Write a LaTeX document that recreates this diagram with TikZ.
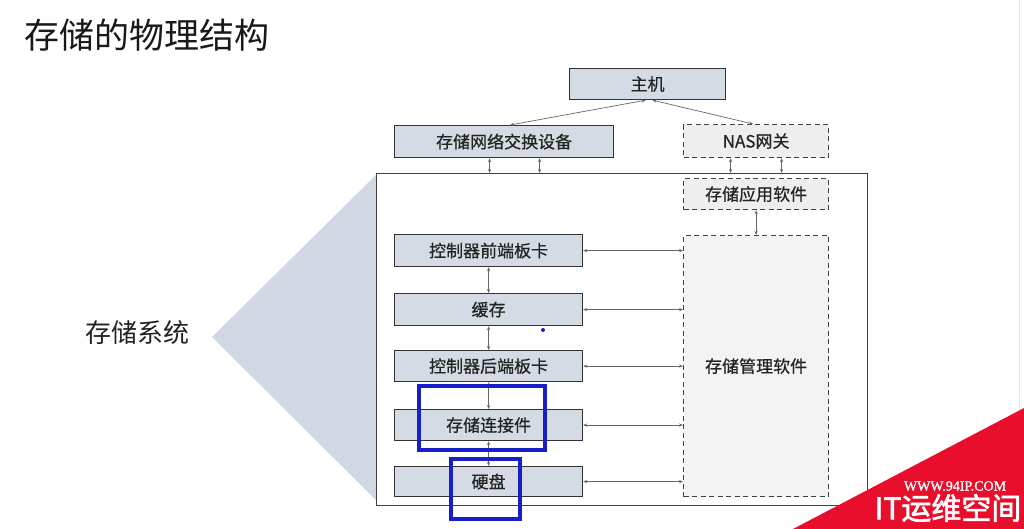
\documentclass[tikz,border=0pt]{standalone}
\usepackage{fontspec}
\newfontfamily\cjk{Noto Sans CJK SC}
\newfontfamily\cjkm[FakeBold=0.6]{Noto Sans CJK SC}
\newfontfamily\cjkb[FakeBold=2]{Noto Sans CJK SC}
\newfontfamily\wmfont[FakeBold=1.5]{Liberation Serif}
\usetikzlibrary{arrows.meta}
\definecolor{boxfill}{RGB}{213,219,229}
\definecolor{trifill}{RGB}{209,216,228}
\definecolor{dashfill}{RGB}{238,238,239}
\definecolor{mgmtfill}{RGB}{243,243,244}
\definecolor{hiblue}{RGB}{24,30,200}
\definecolor{wmred}{RGB}{232,14,44}
\definecolor{txt}{RGB}{35,35,35}
\begin{document}
\begin{tikzpicture}[x=1pt,y=-1pt,
  sbox/.style={draw=black!80, line width=1.2pt, fill=boxfill, inner sep=0pt,
    anchor=north west, text=txt, font=\cjkm\fontsize{17}{20}\selectfont},
  dbox/.style={draw=black!75, line width=1.2pt, dash pattern=on 5pt off 3.5pt,
    fill=dashfill, inner sep=0pt, anchor=north west, text=txt,
    font=\cjkm\fontsize{17}{20}\selectfont},
  arr/.style={draw=black!60, line width=0.7pt,
    {Stealth[length=4pt,width=3.2pt]}-{Stealth[length=4pt,width=3.2pt]}},
  hilite/.style={draw=hiblue, line width=4.5pt}
]
\useasboundingbox (0,0) rectangle (1024,529);
\fill[white] (0,0) rectangle (1024,529);
\draw[black!10, line width=0.8pt] (1019,0) -- (1019,529);

% title
\node[anchor=west, inner sep=0pt, font=\cjk\fontsize{35}{38}\selectfont, text=black!90] (title) at (24,35) {存储的物理结构};

% triangle
\fill[trifill] (212,337) -- (377,174) -- (377,501) -- cycle;
\node[anchor=center, inner sep=0pt, font=\cjk\fontsize{26}{28}\selectfont, text=txt] (syslabel) at (137,333) {存储系统};

% storage system box
\node[draw=black!75, line width=1.2pt, fill=white, anchor=north west, inner sep=0pt,
  minimum width=491pt, minimum height=332pt] (sys) at (376,173) {};

% top boxes
\node[sbox, minimum width=156pt, minimum height=31pt] (host) at (569,68) {主机};
\node[sbox, minimum width=219pt, minimum height=32pt] (sw) at (394,125) {存储网络交换设备};
\node[dbox, minimum width=145pt, minimum height=33pt] (nas) at (683,124) {NAS网关};

% inside boxes
\node[dbox, minimum width=145pt, minimum height=31pt] (app) at (683,178) {存储应用软件};
\node[dbox, fill=mgmtfill, minimum width=145pt, minimum height=261pt] (mgmt) at (683,235) {存储管理软件};

\node[sbox, minimum width=188pt, minimum height=32pt] (fe) at (394,234) {控制器前端板卡};
\node[sbox, minimum width=188pt, minimum height=32pt] (cache) at (394,293) {缓存};
\node[sbox, minimum width=188pt, minimum height=31pt] (be) at (394,350) {控制器后端板卡};
\node[sbox, minimum width=188pt, minimum height=31pt] (conn) at (394,409) {存储连接件};
\node[sbox, minimum width=188pt, minimum height=30pt] (disk) at (394,466) {硬盘};

% connectors from host
\draw[arr] ([xshift=-2pt]host.south) -- ([xshift=6pt]sw.north);
\draw[arr] ([xshift=5pt]host.south) -- ([xshift=-3pt]nas.north);

% switch / NAS to system
\draw[arr] ([xshift=-14.5pt]sw.south) -- ([xshift=-14.5pt]sw.south |- sys.north);
\draw[arr] ([xshift=35.5pt]sw.south) -- ([xshift=35.5pt]sw.south |- sys.north);
\draw[arr] ([xshift=-25.5pt]nas.south) -- ([xshift=-25.5pt]nas.south |- sys.north);
\draw[arr] ([xshift=25.5pt]nas.south) -- ([xshift=25.5pt]nas.south |- sys.north);

% app to management
\draw[arr] (app.south) -- (mgmt.north);

% vertical chain
\draw[arr] (fe.south) -- (cache.north);
\draw[arr] (cache.south) -- (be.north);
\draw[arr] (be.south) -- (conn.north);
\draw[arr] (conn.south) -- (disk.north);

% horizontal to management
\foreach \n in {fe,cache,be,conn,disk}
  \draw[arr] (\n.east) -- (\n.east -| mgmt.west);

% blue highlights
\draw[hilite] (419,386) rectangle (545,450);
\draw[hilite] (451,459) rectangle (520,519);
\fill[hiblue] (543,330) circle (2pt);

% watermark
\fill[wmred] (793,529) -- (1024,408) -- (1024,529) -- cycle;
\node[anchor=center, inner sep=0pt, text=white, font=\wmfont\fontsize{14}{15}\selectfont] (wm1) at (955,486) {WWW.94IP.COM};
\node[anchor=center, inner sep=0pt, text=white, font=\cjkb\fontsize{30}{32}\selectfont] (wm2) at (948,508) {IT运维空间};
\end{tikzpicture}
\end{document}
